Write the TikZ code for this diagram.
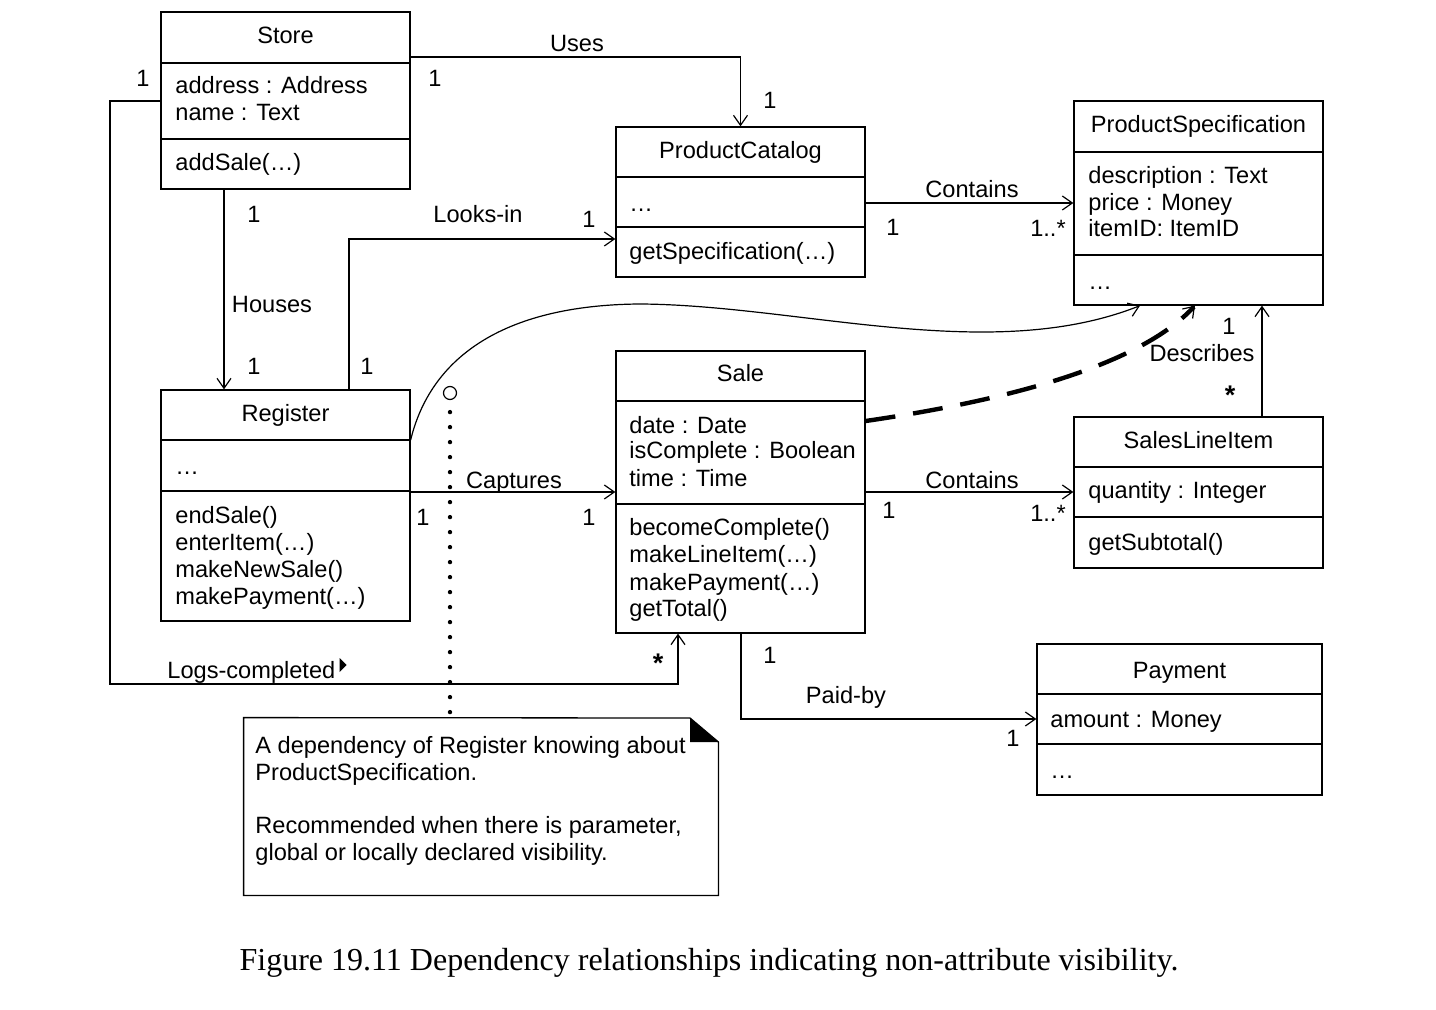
\documentclass[tikz,border=0pt]{standalone}
\usepackage{fontspec}
\setmainfont{Liberation Sans}
\newfontfamily\capfont{Liberation Serif}
\usetikzlibrary{arrows.meta,fit,calc}
\begin{document}
\begin{tikzpicture}[x=0.5pt,y=-0.5pt,
  font=\fontsize{11.8}{13}\selectfont,
  cls/.style={draw, line width=0.65pt, inner sep=0pt},
  divider/.style={line width=0.65pt},
  lbl/.style={anchor=base, inner sep=0pt},
  txt/.style={anchor=base west, inner sep=0pt},
  star/.style={anchor=base, inner sep=0pt, font=\fontsize{13.5}{14}\selectfont\bfseries},
  assoc/.style={line width=0.6pt, -{Straight Barb[length=5pt,width=7pt]}},
  depline/.style={line width=2.2pt, dash pattern=on 15pt off 9pt, -{Straight Barb[length=5pt,width=7pt,line width=0.6pt]}},
  anchorline/.style={line width=2.2pt, line cap=round, dash pattern=on 0pt off 7.5pt},
  ]
\useasboundingbox (0,0) rectangle (1436,1010);

% ---------- classes ----------
\node[cls, fit={(161,12) (410,189)}] (store) {};
\draw[divider] (store.west|-0,63) -- (store.east|-0,63);
\draw[divider] (store.west|-0,139) -- (store.east|-0,139);
\node[lbl] (storeN) at (285.5,44) {Store};
\node[txt] (storeA1) at (175,94) {address : Address};
\node[txt] (storeA2) at (175,121) {name : Text};
\node[txt] (storeM1) at (175,171) {addSale(\dots)};

\node[cls, fit={(616,127) (865,277)}] (pc) {};
\draw[divider] (pc.west|-0,177) -- (pc.east|-0,177);
\draw[divider] (pc.west|-0,227) -- (pc.east|-0,227);
\node[lbl] (pcN) at (740.5,159) {ProductCatalog};
\node[txt] (pcA1) at (629,212) {\dots};
\node[txt] (pcM1) at (629,260) {getSpecification(\dots)};

\node[cls, fit={(1074,101) (1323,305)}] (pspec) {};
\draw[divider] (pspec.west|-0,152) -- (pspec.east|-0,152);
\draw[divider] (pspec.west|-0,255) -- (pspec.east|-0,255);
\node[lbl] (psN) at (1198.5,133) {ProductSpecification};
\node[txt] (psA1) at (1088,184) {description : Text};
\node[txt] (psA2) at (1088,211) {price : Money};
\node[txt] (psA3) at (1088,237) {itemID: ItemID};
\node[txt] (psM1) at (1088,290) {\dots};

\node[cls, fit={(161,390) (410,621)}] (reg) {};
\draw[divider] (reg.west|-0,440) -- (reg.east|-0,440);
\draw[divider] (reg.west|-0,491) -- (reg.east|-0,491);
\node[lbl] (regN) at (285.5,422) {Register};
\node[txt] (regA1) at (175,475) {\dots};
\node[txt] (regM1) at (175,524) {endSale()};
\node[txt] (regM2) at (175,551) {enterItem(\dots)};
\node[txt] (regM3) at (175,578) {makeNewSale()};
\node[txt] (regM4) at (175,604) {makePayment(\dots)};

\node[cls, fit={(616,351) (865,633)}] (sale) {};
\draw[divider] (sale.west|-0,401) -- (sale.east|-0,401);
\draw[divider] (sale.west|-0,504) -- (sale.east|-0,504);
\node[lbl] (saleN) at (740.5,382) {Sale};
\node[txt] (saleA1) at (629,434) {date : Date};
\node[txt] (saleA2) at (629,459) {isComplete : Boolean};
\node[txt] (saleA3) at (629,487) {time : Time};
\node[txt] (saleM1) at (629,536) {becomeComplete()};
\node[txt] (saleM2) at (629,563) {makeLineItem(\dots)};
\node[txt] (saleM3) at (629,591) {makePayment(\dots)};
\node[txt] (saleM4) at (629,617) {getTotal()};

\node[cls, fit={(1074,417) (1323,568)}] (sli) {};
\draw[divider] (sli.west|-0,467) -- (sli.east|-0,467);
\draw[divider] (sli.west|-0,517) -- (sli.east|-0,517);
\node[lbl] (sliN) at (1198.5,449) {SalesLineItem};
\node[txt] (sliA1) at (1088,499) {quantity : Integer};
\node[txt] (sliM1) at (1088,551) {getSubtotal()};

\node[cls, fit={(1037,644) (1322,795)}] (pay) {};
\draw[divider] (pay.west|-0,694) -- (pay.east|-0,694);
\draw[divider] (pay.west|-0,744) -- (pay.east|-0,744);
\node[lbl] (payN) at (1179.5,678) {Payment};
\node[txt] (payA1) at (1050,727) {amount : Money};
\node[txt] (payM1) at (1050,778) {\dots};

% ---------- note ----------
\node[inner sep=0pt, fit={(244,718) (718,895)}] (note) {};
\draw[line width=0.65pt] (note.north west) -- (690,718) -- (note.north east|-0,742) -- (note.south east) -- (note.south west) -- cycle;
\fill (690,718) -- (690,742) -- (718,742) -- cycle;
\node[txt] (n1) at (255,753) {A dependency of Register knowing about};
\node[txt] (n2) at (255,780) {ProductSpecification.};
\node[txt] (n3) at (255,833) {Recommended when there is parameter,};
\node[txt] (n4) at (255,860) {global or locally declared visibility.};

% ---------- associations ----------
\coordinate (lcA) at (110,684);
\draw[assoc] (store.east|-0,57) -| (pc.north);
\draw[assoc] (store.west|-0,101) -| (lcA) -| (sale.south -| 678,0);
\draw[assoc] (store.south -| 224,0) -- (reg.north -| 224,0);
\draw[assoc] (reg.north -| 349,0) |- (pc.west |- 0,239);
\draw[assoc] (pc.east|-0,203) -- (pspec.west|-0,203);
\draw[assoc] (reg.east|-0,492) -- (sale.west|-0,492);
\draw[assoc] (sale.east|-0,492) -- (sli.west|-0,492);
\draw[assoc] (sli.north -| 1262,0) -- (pspec.south -| 1262,0);
\draw[assoc] (sale.south -| 741,0) |- (pay.west|-0,719);

% dependency (Register -> ProductSpecification), thin curve
\draw[assoc] (reg.east|-0,440) .. controls (430,360) and (500,305) .. (640,304)
   .. controls (800,305) and (990,365) .. (pspec.south -| 1140,0);
% dependency (Sale -> ProductSpecification), thick dashed
\draw[depline] (sale.east|-0,421) .. controls (1010,400) and (1140,365) .. (pspec.south -| 1195,0);

% note anchor
\node[circle, draw, line width=0.6pt, minimum size=6.5pt, inner sep=0pt] (knob) at (450,393) {};
\draw[anchorline] ($(knob.south)+(0,12)$) -- (note.north -| 450,0);

% ---------- labels ----------
\node[lbl] (lUses) at (577,52) {Uses};
\node[lbl] (m1) at (435,87) {1};
\node[lbl] (m2) at (770,109) {1};
\node[lbl] (m3) at (143,87) {1};
\node[txt] (lLogs) at (167,678) {Logs-completed};
\fill (lLogs.base east) ++(4,-20) -- ++(7,7) -- ++(-7,7) -- cycle;
\node[star] (s1) at (658,672) {*};
\node[lbl] (m4) at (254,223) {1};
\node[lbl] (lHouses) at (272,313) {Houses};
\node[lbl] (m5) at (254,375) {1};
\node[lbl] (m6) at (367,375) {1};
\node[lbl] (lLooks) at (478,223) {Looks-in};
\node[lbl] (m7) at (589,228) {1};
\node[lbl] (lCont1) at (972,198) {Contains};
\node[lbl] (m8) at (893,236) {1};
\node[lbl] (m9) at (1048,237) {1..*};
\node[lbl] (lCapt) at (514,489) {Captures};
\node[lbl] (m10) at (423,526) {1};
\node[lbl] (m11) at (589,526) {1};
\node[lbl] (lCont2) at (972,489) {Contains};
\node[lbl] (m12) at (889,519) {1};
\node[lbl] (m13) at (1048,522) {1..*};
\node[lbl] (m14) at (1229,335) {1};
\node[lbl] (lDesc) at (1202,362) {Describes};
\node[star] (s2) at (1230,405) {*};
\node[lbl] (m15) at (770,663) {1};
\node[lbl] (lPaid) at (846,703) {Paid-by};
\node[lbl] (m16) at (1013,746) {1};

% ---------- caption ----------
\node[lbl, font=\capfont\fontsize{16}{18}\selectfont] (cap) at (709,970)
  {Figure 19.11 Dependency relationships indicating non-attribute visibility.};
\end{tikzpicture}
\end{document}
